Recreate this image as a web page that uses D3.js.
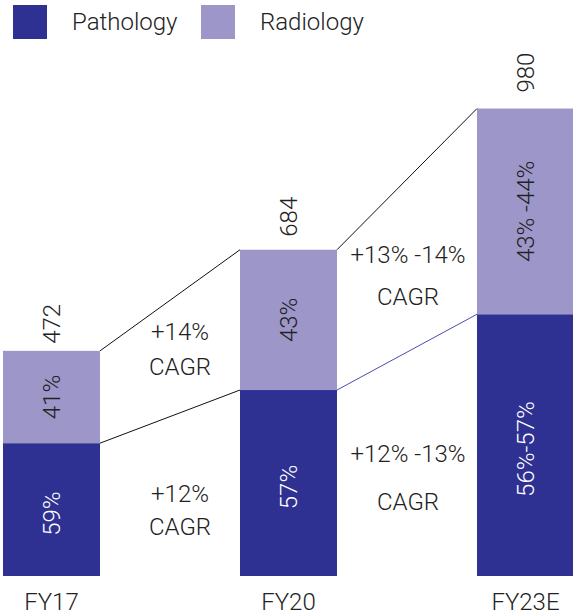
<!DOCTYPE html>
<html>
<head>
<style>
  body {
    margin: 0;
    background-color: #ffffff;
  }

  text {
    font-family: Roboto, Lato, sans-serif;
    font-weight: 300;
    fill: #222222;
  }
</style>
  <script src="https://d3js.org/d3.v7.min.js"></script>
</head>
<body>
<script>
// stacked revenue bars with CAGR connectors
const years = ['FY17', 'FY20', 'FY23E'];
const totals = [472, 684, 980];
const pathologyShare = [0.59, 0.57, 0.56];
const pathologyLabels = ['59%', '57%', '56%-57%'];
const radiologyLabels = ['41%', '43%', '43% -44%'];
const cagrTop = [['+14%', 'CAGR'], ['+13% -14%', 'CAGR']];
const cagrBottom = [['+12%', 'CAGR'], ['+12% -13%', 'CAGR']];
const seriesNames = ['Pathology', 'Radiology'];

const colors = {
  pathology: '#2e3192',
  radiology: '#9d96c9',
};

const width = 573;
const height = 616;

const svg = d3.select('body')
  .append('svg')
  .attr('width', width)
  .attr('height', height);

const x = d3.scaleBand()
  .domain(years)
  .range([3, 574])
  .paddingInner(140 / 237)
  .paddingOuter(0);

const y = d3.scaleLinear()
  .domain([0, 1000])
  .range([576, 99]);

const rows = years.map((year, i) => {
  const patho = totals[i] * pathologyShare[i];
  return {
    year: year,
    total: totals[i],
    split: patho,
    pathoLabel: pathologyLabels[i],
    radioLabel: radiologyLabels[i],
  };
});

// bars
rows.forEach((d) => {
  svg.append('rect')
    .attr('x', x(d.year))
    .attr('y', y(d.split))
    .attr('width', x.bandwidth())
    .attr('height', y(0) - y(d.split))
    .attr('fill', colors.pathology);

  svg.append('rect')
    .attr('x', x(d.year))
    .attr('y', y(d.total))
    .attr('width', x.bandwidth())
    .attr('height', y(d.split) - y(d.total))
    .attr('fill', colors.radiology);
});

// connector lines between bars
for (let i = 0; i < rows.length - 1; i++) {
  const a = rows[i];
  const b = rows[i + 1];
  const x0 = x(a.year) + x.bandwidth();
  const x1 = x(b.year);

  svg.append('line')
    .attr('x1', x0).attr('y1', y(a.total))
    .attr('x2', x1).attr('y2', y(b.total))
    .attr('stroke', '#111111')
    .attr('stroke-width', 1);

  svg.append('line')
    .attr('x1', x0).attr('y1', y(a.split))
    .attr('x2', x1).attr('y2', y(b.split))
    .attr('stroke', i === 0 ? '#111111' : '#4b4bb3')
    .attr('stroke-width', 1);
}

const rotatedLabel = (cx, cy, label, color) => {
  svg.append('text')
    .attr('transform', `translate(${cx},${cy}) rotate(-90)`)
    .attr('text-anchor', 'middle')
    .attr('dominant-baseline', 'central')
    .style('font-size', '24px')
    .style('fill', color)
    .text(label);
};

// gap between bar top and its total label
const totalGap = [27, 33, 36];

rows.forEach((d, i) => {
  const cx = x(d.year) + x.bandwidth() / 2;
  // total above the bar
  rotatedLabel(cx, y(d.total) - totalGap[i], d.total, '#222222');
  // shares inside
  rotatedLabel(cx, (y(d.total) + y(d.split)) / 2, d.radioLabel, '#222222');
  rotatedLabel(cx, (y(d.split) + y(0)) / 2 + 4, d.pathoLabel, '#ffffff');
});

// CAGR text between bars
const cagrShift = [10, 1];
const cagrBlock = (i, lines, baselines) => {
  const cx = (x(years[i]) + x.bandwidth() + x(years[i + 1])) / 2 + cagrShift[i];
  lines.forEach((line, k) => {
    svg.append('text')
      .attr('x', cx)
      .attr('y', baselines[k])
      .attr('text-anchor', 'middle')
      .style('font-size', '24px')
      .text(line);
  });
};

cagrBlock(0, cagrTop[0], [340, 375]);
cagrBlock(0, cagrBottom[0], [502, 535]);
cagrBlock(1, cagrTop[1], [263, 305]);
cagrBlock(1, cagrBottom[1], [462, 510]);

// category labels
svg.selectAll('.cat')
  .data(years)
  .join('text')
  .attr('class', 'cat')
  .attr('x', (d) => x(d) + x.bandwidth() / 2)
  .attr('y', 610)
  .attr('text-anchor', 'middle')
  .style('font-size', '24px')
  .text((d) => d);

// legend
const legendX = [13, 201];
seriesNames.forEach((name, i) => {
  svg.append('rect')
    .attr('x', legendX[i])
    .attr('y', 5)
    .attr('width', 34)
    .attr('height', 34)
    .attr('fill', i === 0 ? colors.pathology : colors.radiology);

  svg.append('text')
    .attr('x', legendX[i] + 59)
    .attr('y', 30)
    .style('font-size', '24px')
    .text(name);
});
</script>
</body>
</html>
